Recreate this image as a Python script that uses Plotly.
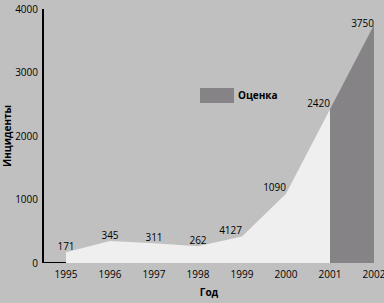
import plotly.graph_objects as go

years = [1995, 1996, 1997, 1998, 1999, 2000, 2001]
values = [171, 345, 311, 262, 417, 1090, 2420]
est_years = [2001, 2002]
est_values = [2420, 3750]
label_years = [1995, 1996, 1997, 1998, 1999, 2000, 2001, 2002]
label_values = [171, 345, 311, 262, 417, 1090, 2420, 3750]
label_texts = ["171", "345", "311", "262", "4127", "1090", "2420", "3750"]
label_pos = ["top center", "top center", "top center", "top center", "top left",
             "top left", "top left", "middle left"]
y_ticks = [0, 1000, 2000, 3000, 4000]
x_ticks = [1995, 1996, 1997, 1998, 1999, 2000, 2001, 2002]

FONT = "Open Sans"
fig = go.Figure()
fig.add_trace(go.Scatter(x=years, y=values, fill="tozeroy", mode="none",
                         fillcolor="#efefef", showlegend=False))
fig.add_trace(go.Scatter(x=est_years, y=est_values, fill="tozeroy", mode="none",
                         fillcolor="#858385", showlegend=False))
fig.add_trace(go.Scatter(x=[1994.5, 1995], y=[0, 0], mode="lines",
                         line=dict(color="black", width=2), showlegend=False))
fig.add_trace(go.Scatter(x=label_years, y=label_values, mode="text",
                         text=label_texts, textposition=label_pos,
                         textfont=dict(family=FONT, size=10, color="black"),
                         showlegend=False, cliponaxis=False))

fig.add_shape(type="rect", xref="paper", yref="paper",
              x0=(200 - 44) / 330, x1=(234 - 44) / 330,
              y0=(263 - 103) / 254, y1=(263 - 88) / 254,
              fillcolor="#858385", line=dict(width=0))
fig.add_annotation(text="<b>Оценка</b>", xref="paper", yref="paper",
                   x=(236 - 44) / 330, y=(263 - 95.5) / 254,
                   xanchor="left", yanchor="middle", showarrow=False,
                   font=dict(family=FONT, size=10, color="black"))

fig.update_layout(
    width=384, height=303,
    margin=dict(l=44, r=10, t=9, b=40, autoexpand=False),
    paper_bgcolor="#c0c0c0", plot_bgcolor="#c0c0c0",
    font=dict(family=FONT, size=10, color="black"),
    xaxis=dict(range=[1994.5, 2002.0001], tickvals=x_ticks, showgrid=False,
               zeroline=False, showline=False, ticks="", automargin=False,
               ticklabelstandoff=4, ticklabeloverflow="allow",
               title=dict(text="<b>Год</b>", standoff=8,
                          font=dict(family=FONT, size=10)),
               tickfont=dict(family=FONT, size=10)),
    yaxis=dict(range=[0, 4000], tickvals=y_ticks, showgrid=False,
               zeroline=False, showline=True, linecolor="black", linewidth=2,
               ticks="", ticklabelstandoff=2, automargin=False,
               ticklabeloverflow="allow",
               title=dict(text="<b>Инциденты</b>", standoff=8,
                          font=dict(family=FONT, size=10)),
               tickfont=dict(family=FONT, size=10)),
)
fig.write_html("out.html")
